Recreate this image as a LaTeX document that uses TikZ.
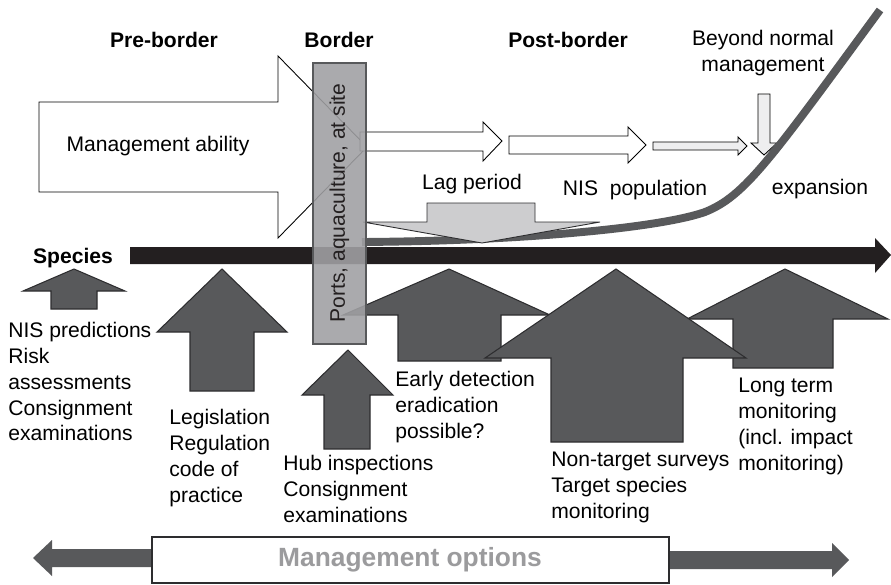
\documentclass[tikz,border=0pt]{standalone}
\usepackage{fontspec}
\setmainfont{Liberation Sans}
\definecolor{arrgray}{RGB}{88,89,91}
\definecolor{edgegray}{RGB}{45,45,47}
\definecolor{bargray}{RGB}{160,160,163}
\definecolor{laggray}{RGB}{205,205,207}
\definecolor{palegray}{RGB}{238,238,239}
\definecolor{optgray}{RGB}{155,155,157}
\definecolor{linegray}{RGB}{35,31,32}

\begin{document}
\begin{tikzpicture}[x=0.02cm,y=-0.02cm,
    lab/.style={inner sep=0pt,font=\fontsize{12}{14.7}\selectfont},
    txt/.style={lab,anchor=north west,align=left},
    hdr/.style={inner sep=0pt,font=\fontsize{12}{14.7}\selectfont\bfseries},
    upbox/.style={fill=arrgray,draw=edgegray,line width=0.6pt,line join=miter},
    flatbox/.style={fill=white,draw=black,line width=0.5pt,line join=miter}]
    \useasboundingbox (0,0) rectangle (891,584);

    % phases
    \node[hdr] (pre) at (164,40) {Pre-border};
    \node[hdr] (bord) at (339,40) {Border};
    \node[hdr] (post) at (568,40) {Post-border};
    \node[lab,align=center] (beyond) at (763,53) {Beyond normal\\management};

    % management ability
    \draw[flatbox] (39,102) -- (278,102) -- (278,56) -- (367,147) -- (278,238)
      -- (278,192) -- (39,192) -- cycle;
    \node[lab] (ability) at (158,146) {Management ability};

    % population steps
    \draw[flatbox] (360,132) -- (483,132) -- (483,122) -- (502,141) -- (483,161)
      -- (483,151) -- (360,151) -- cycle;
    \draw[flatbox] (509,136) -- (628,136) -- (628,127) -- (646,145) -- (628,163)
      -- (628,154) -- (509,154) -- cycle;
    \draw[flatbox,fill=palegray] (653,142) -- (738,142) -- (738,137) -- (747,146)
      -- (738,155) -- (738,150) -- (653,150) -- cycle;
    \draw[flatbox,fill=palegray] (758,94) -- (770,94) -- (770,143) -- (777,143)
      -- (764,155) -- (751,143) -- (758,143) -- cycle;

    \node[lab] (lag) at (472,184) {Lag period};
    \node[lab] (nis) at (635,190) {NIS~ population};
    \node[lab] (expan) at (820,189) {expansion};

    % population curve
    \draw[arrgray,line width=4.5pt] (362,242) .. controls (520,241) and (660,228) .. (705,212)
      .. controls (745,196) and (770,160) .. (880,10);

    % lag arrow
    \draw[flatbox,fill=laggray,draw=edgegray] (427,203) -- (535,203) -- (535,222) -- (600,222)
      -- (482,243) -- (363,222) -- (427,222) -- cycle;

    % species axis
    \fill[linegray] (130,247) -- (875,247) -- (875,238) -- (891,255) -- (875,273)
      -- (875,264) -- (130,264) -- cycle;
    \node[hdr] (species) at (73,258) {Species};

    % management options (up arrows)
    \draw[upbox] (51,309) -- (51,291) -- (23,291) -- (74,269) -- (125,291) -- (97,291) -- (97,309) -- cycle;
    \draw[upbox] (190,391) -- (190,332) -- (157,332) -- (222,269) -- (287,332) -- (254,332) -- (254,391) -- cycle;
    \draw[upbox] (324,449) -- (324,395) -- (302,395) -- (348,350) -- (393,395) -- (370,395) -- (370,449) -- cycle;
    \draw[upbox] (398,361) -- (398,315) -- (343,315) -- (449,269) -- (550,315) -- (501,315) -- (501,361) -- cycle;
    \draw[upbox] (733,368) -- (733,319) -- (687,319) -- (785,269) -- (888,319) -- (833,319) -- (833,368) -- cycle;
    \draw[upbox] (551,442) -- (551,358) -- (485,358) -- (616,269) -- (746,358) -- (683,358) -- (683,442) -- cycle;

    % border bar
    \draw[fill=bargray,fill opacity=0.89,draw=arrgray,line width=1.1pt] (313,63) rectangle (366,344);
    \node[lab,rotate=90,text=linegray] (ports) at (339.5,203) {Ports, aquaculture, at site};

    % option labels
    \node[txt] (predict) at (8,322) {NIS predictions\\Risk\\assessments\\Consignment\\examinations};
    \node[txt] (legis) at (169,409) {Legislation\\Regulation\\code of\\practice};
    \node[txt] (hub) at (283,455) {Hub inspections\\Consignment\\examinations};
    \node[txt] (early) at (395,371) {Early detection\\eradication\\possible?};
    \node[txt] (survey) at (551,452) {Non-target surveys\\Target species\\monitoring};
    \node[txt] (longterm) at (738,378) {Long term\\monitoring\\(incl. impact\\monitoring)};

    % management options bar
    \fill[arrgray] (152,549) -- (52,549) -- (52,540) -- (33,558) -- (52,576) -- (52,567) -- (152,567) -- cycle;
    \fill[arrgray] (669,551) -- (832,551) -- (832,543) -- (849,560) -- (832,577) -- (832,569) -- (669,569) -- cycle;
    \draw[fill=white,draw=edgegray,line width=0.6pt] (152,537) rectangle (669,583);
    \node[inner sep=0pt,font=\fontsize{15}{18}\selectfont\bfseries,text=optgray] (options) at (410,560) {Management options};
  \end{tikzpicture}
\end{document}
